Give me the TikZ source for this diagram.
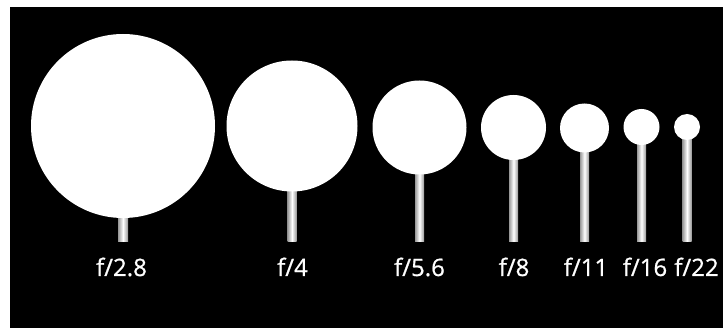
\documentclass[tikz,border=0pt]{standalone}
\usepackage{fontspec}
\setmainfont{Open Sans}
\newfontfamily\lblfont{Open Sans}[FakeBold=0.8]
\begin{document}
\begin{tikzpicture}[
    x=1pt, y=-1pt,
    disc/.style={circle, fill=white, inner sep=0pt, minimum size=#1},
    stem/.style={left color=black!40, right color=black!40, middle color=white},
    lbl/.style={anchor=base, text=white, inner sep=0pt, font=\lblfont\fontsize{24}{24}\selectfont}
]

% Frame
\fill[white] (0,0) rectangle (723,328);
\fill[black] (10,7.5) rectangle (723,328);

% Disc centres and stem tips
\coordinate (c1) at (123,126);   \coordinate (t1) at (123,242);
\coordinate (c2) at (292,126);   \coordinate (t2) at (292,242);
\coordinate (c3) at (419.5,127.5); \coordinate (t3) at (419.5,242);
\coordinate (c4) at (513.5,127.5); \coordinate (t4) at (513.5,242);
\coordinate (c5) at (584.5,128); \coordinate (t5) at (584.5,242);
\coordinate (c6) at (641.5,127); \coordinate (t6) at (641.5,242);
\coordinate (c7) at (687,127);   \coordinate (t7) at (687,242);

% Stems
\shade[stem] ([xshift=-5pt]c1) rectangle ([xshift=5pt]t1);
\shade[stem] ([xshift=-4.5pt]c2) rectangle ([xshift=4.5pt]t2);
\shade[stem] ([xshift=-4.5pt]c3) rectangle ([xshift=4.5pt]t3);
\shade[stem] ([xshift=-4.5pt]c4) rectangle ([xshift=4.5pt]t4);
\shade[stem] ([xshift=-4.5pt]c5) rectangle ([xshift=4.5pt]t5);
\shade[stem] ([xshift=-4.5pt]c6) rectangle ([xshift=4.5pt]t6);
\shade[stem] ([xshift=-4.5pt]c7) rectangle ([xshift=4.5pt]t7);

% Discs
\node[disc=184pt] (d1) at (c1) {};
\node[disc=131pt] (d2) at (c2) {};
\node[disc=94pt]  (d3) at (c3) {};
\node[disc=65pt]  (d4) at (c4) {};
\node[disc=49pt]  (d5) at (c5) {};
\node[disc=36pt]  (d6) at (c6) {};
\node[disc=26pt]  (d7) at (c7) {};

% f-numbers
\node[lbl] (l1) at (121.5,276) {f/2.8};
\node[lbl] (l2) at (292.5,276) {f/4};
\node[lbl] (l3) at (419.5,276) {f/5.6};
\node[lbl] (l4) at (514,276)   {f/8};
\node[lbl] (l5) at (586,276)   {f/11};
\node[lbl] (l6) at (645,276)   {f/16};
\node[lbl] (l7) at (696.5,276) {f/22};

\end{tikzpicture}
\end{document}
